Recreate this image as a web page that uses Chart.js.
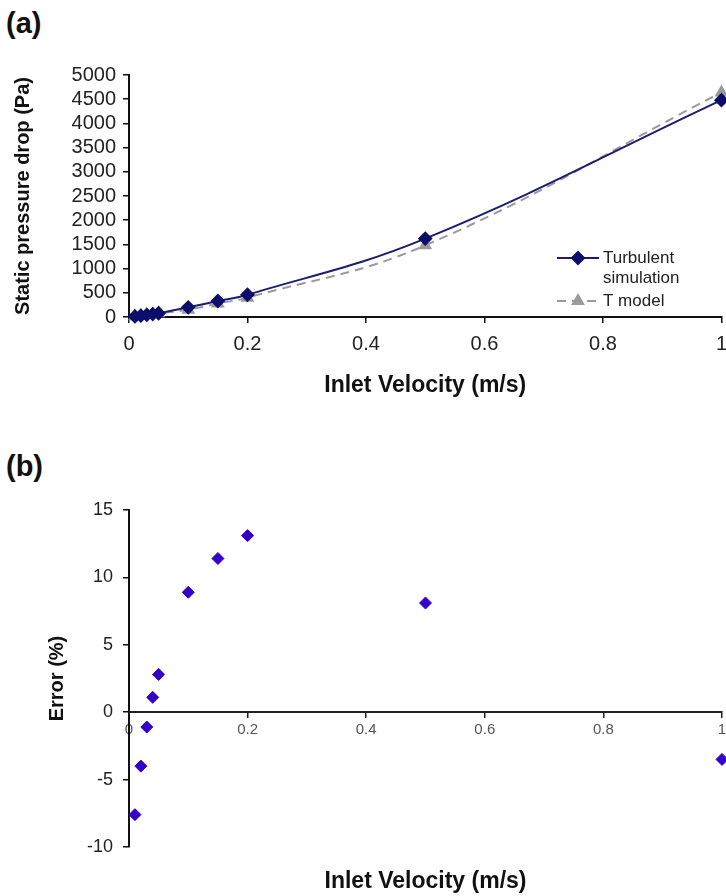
<!DOCTYPE html>
<html><head><meta charset="utf-8">
<script src="https://cdn.jsdelivr.net/npm/chart.js@4.4.1/dist/chart.umd.min.js"></script>
<style>
html,body{margin:0;padding:0;background:#fff;overflow:hidden;width:726px;height:896px;}
#wrapA{position:absolute;left:0;top:0;width:736px;height:400px;}
#wrapB{position:absolute;left:0;top:440px;width:736px;height:456px;}
.panel{position:absolute;left:6px;font:bold 29px 'Liberation Sans',Arial,sans-serif;color:#111;line-height:32px;}
</style></head><body>
<div class="panel" style="top:7px">(a)</div>
<div class="panel" style="top:450px">(b)</div>
<div id="wrapA"><canvas id="cA" width="736" height="400"></canvas></div>
<div id="wrapB"><canvas id="cB" width="736" height="456"></canvas></div>
<script>
const velocity = [0.01, 0.02, 0.03, 0.04, 0.05, 0.1, 0.15, 0.2, 0.5, 1];
const turbulentDrop = [12, 27, 44, 60, 78, 200, 330, 460, 1620, 4480];
const tModelDrop = [13, 28, 44, 59, 76, 150, 280, 400, 1480, 4640];
const errorPct = [-7.6, -4.0, -1.1, 1.1, 2.8, 8.9, 11.4, 13.1, 8.1, -3.5];
const seriesLabels = [['Turbulent', 'simulation'], ['T model']];
const xTickLabels = ['0', '0.2', '0.4', '0.6', '0.8', '1'];
const pressureTicks = [0, 500, 1000, 1500, 2000, 2500, 3000, 3500, 4000, 4500, 5000];
const errorTicks = [-10, -5, 0, 5, 10, 15];

const FONT = "'Liberation Sans', Arial, sans-serif";
Chart.defaults.font.family = FONT;
Chart.defaults.color = '#111';

const toXY = (ys) => velocity.map((x, i) => ({x: x, y: ys[i]}));

const inlineLegend = {
  id: 'inlineLegend',
  afterDraw(chart, args, opts) {
    if (!opts || !opts.show) return;
    const ctx = chart.ctx;
    let y = opts.top;
    chart.data.datasets.forEach((ds, i) => {
      const x0 = opts.left, x1 = x0 + opts.lineLen;
      ctx.save();
      ctx.strokeStyle = ds.borderColor;
      ctx.lineWidth = ds.borderWidth;
      ctx.setLineDash(ds.borderDash || []);
      ctx.beginPath(); ctx.moveTo(x0, y); ctx.lineTo(x1, y); ctx.stroke();
      ctx.setLineDash([]);
      ctx.fillStyle = ds.pointBackgroundColor;
      ctx.strokeStyle = ds.pointBorderColor;
      Chart.helpers.drawPoint(ctx, {pointStyle: ds.pointStyle, radius: ds.pointRadius, borderWidth: 1, rotation: 0}, (x0 + x1) / 2, y);
      ctx.fillStyle = '#222';
      ctx.font = opts.fontSize + 'px ' + FONT;
      ctx.textBaseline = 'middle';
      ctx.textAlign = 'left';
      const lines = seriesLabels[i];
      lines.forEach((t, k) => ctx.fillText(t, x1 + 4, y + k * opts.lineGap));
      ctx.restore();
      y += lines.length * opts.lineGap + opts.entryGap;
    });
  }
};

new Chart(document.getElementById('cA'), {
  type: 'scatter',
  data: {
    datasets: [
      {
        label: 'Turbulent simulation',
        data: toXY(turbulentDrop),
        showLine: true,
        tension: 0.4,
        borderColor: '#1c1c72',
        borderWidth: 2,
        pointStyle: 'rectRot',
        pointRadius: 6,
        pointBackgroundColor: '#0d0d6b',
        pointBorderColor: '#0d0d6b',
        clip: false
      },
      {
        label: 'T model',
        data: toXY(tModelDrop),
        showLine: true,
        tension: 0.4,
        borderColor: '#9a9a9a',
        borderWidth: 2,
        borderDash: [9, 6],
        pointStyle: 'triangle',
        pointRadius: 6,
        pointBackgroundColor: '#9a9a9a',
        pointBorderColor: '#9a9a9a',
        clip: false
      }
    ]
  },
  options: {
    responsive: false,
    animation: false,
    layout: {padding: {left: 0, right: 14, top: 75, bottom: 0}},
    plugins: {
      legend: {display: false},
      tooltip: {enabled: false},
      inlineLegend: {show: true, left: 557, top: 258, lineLen: 42, lineGap: 20, entryGap: 3, fontSize: 17}
    },
    scales: {
      x: {
        type: 'linear', min: 0, max: 1,
        afterBuildTicks: (s) => { s.ticks = xTickLabels.map(v => ({value: parseFloat(v)})); },
        afterFit: (s) => { s.height = 83; },
        ticks: {callback: (v, i) => xTickLabels[i], font: {size: 20}, color: '#222', padding: 9, maxRotation: 0, autoSkip: false},
        grid: {drawOnChartArea: false, drawTicks: true, tickLength: 6, color: '#111', lineWidth: 1.5},
        border: {display: true, color: '#111', width: 2},
        title: {display: true, text: 'Inlet Velocity (m/s)', font: {size: 23, weight: 'bold'}, color: '#111', padding: {top: 0, bottom: 1}}
      },
      y: {
        type: 'linear', min: 0, max: 5000,
        afterBuildTicks: (s) => { s.ticks = pressureTicks.map(v => ({value: v})); },
        afterFit: (s) => { s.width = 129; },
        ticks: {callback: (v) => String(v), font: {size: 20}, color: '#222', padding: 7, autoSkip: false},
        grid: {drawOnChartArea: false, drawTicks: true, tickLength: 6, color: '#111', lineWidth: 1.5},
        border: {display: true, color: '#111', width: 2},
        title: {display: true, text: 'Static pressure drop (Pa)', font: {size: 20, weight: 'bold'}, color: '#111', padding: {top: 11, bottom: 0}}
      }
    }
  },
  plugins: [inlineLegend]
});

new Chart(document.getElementById('cB'), {
  type: 'scatter',
  data: {
    datasets: [
      {
        label: 'Error',
        data: toXY(errorPct),
        pointStyle: 'rectRot',
        pointRadius: 6,
        pointBackgroundColor: '#3300cc',
        pointBorderColor: '#3300cc',
        clip: false
      }
    ]
  },
  options: {
    responsive: false,
    animation: false,
    layout: {padding: {left: 0, right: 14, top: 70, bottom: 49}},
    plugins: {legend: {display: false}, tooltip: {enabled: false}},
    scales: {
      x: {
        type: 'linear', min: 0, max: 1,
        position: {y: 0},
        afterBuildTicks: (s) => { s.ticks = xTickLabels.map(v => ({value: parseFloat(v)})); },
        afterFit: (s) => { s.height = 183; },
        ticks: {callback: (v, i) => xTickLabels[i], font: {size: 15}, color: '#555', padding: 4, maxRotation: 0, autoSkip: false},
        grid: {drawOnChartArea: false, drawTicks: true, tickLength: 5, color: '#222', lineWidth: 1.5},
        border: {display: true, color: '#222', width: 2},
        title: {display: true, text: 'Inlet Velocity (m/s)', font: {size: 23, weight: 'bold'}, color: '#111', padding: {top: 0, bottom: 0}}
      },
      y: {
        type: 'linear', min: -10, max: 15,
        afterBuildTicks: (s) => { s.ticks = errorTicks.map(v => ({value: v})); },
        afterFit: (s) => { s.width = 129; },
        ticks: {callback: (v) => String(v), font: {size: 18}, color: '#222', padding: 10, autoSkip: false},
        grid: {drawOnChartArea: false, drawTicks: true, tickLength: 6, color: '#111', lineWidth: 1.5},
        border: {display: true, color: '#111', width: 2},
        title: {display: true, text: 'Error (%)', font: {size: 20, weight: 'bold'}, color: '#111', padding: {top: 45, bottom: 0}}
      }
    }
  }
});
</script>
</body></html>
